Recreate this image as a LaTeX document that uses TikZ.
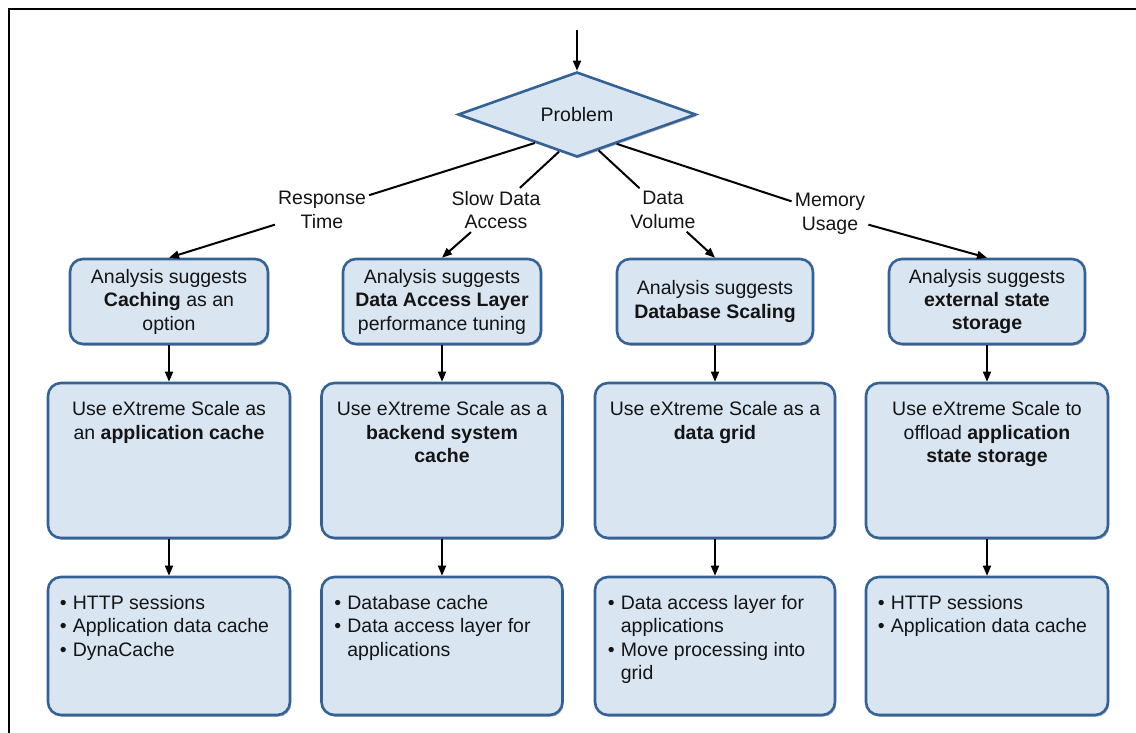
\documentclass[tikz,border=0pt]{standalone}
\usepackage{fontspec}
\setmainfont{Liberation Sans}
\usetikzlibrary{shapes.geometric,arrows.meta,calc,shadows}
\definecolor{boxfill}{RGB}{218,229,242}
\definecolor{boxline}{RGB}{52,97,150}
\definecolor{txt}{RGB}{20,20,20}
\newcommand{\bul}{\makebox[13pt][l]{\textbullet}}
\newcommand{\ind}{\hspace*{13pt}}
\begin{document}
\begin{tikzpicture}[x=1pt,y=-1pt,
  every node/.style={font=\fontsize{19.5}{23.5}\selectfont, text=txt},
  shad/.style={drop shadow={shadow xshift=1.2pt, shadow yshift=-1.8pt, fill=black!55, opacity=0.5}},
  box/.style={draw=boxline, line width=2.6pt, fill=boxfill, rounded corners=13pt, inner sep=2pt, align=center, shad},
  lbl/.style={inner sep=3pt, align=center},
  arr/.style={-{Triangle[length=10pt,width=8pt]}, line width=1.7pt, black},
  conn/.style={line width=2pt, black},
  wtext/.style={inner sep=0pt, align=center, anchor=north},
  btext/.style={inner sep=0pt, align=left, anchor=north west}]
\useasboundingbox (0,0) rectangle (1136,733);
% frame
\draw[line width=2pt] (8.5,733) -- (8.5,9.5) -- (1136,9.5);

% decision
\node[diamond, draw=boxline, line width=2.6pt, fill=boxfill, minimum width=238pt, minimum height=85pt, inner sep=0pt, aspect=2.8, shad] (prob) at (577,114.5) {Problem};
\coordinate (start) at (577,30);
\draw[arr] (start) -- (prob.north);

% branch labels
\node[lbl] (rt) at (322,210) {Response\\Time};
\node[lbl] (sd) at (496,210) {Slow Data\\Access};
\node[lbl] (dv) at (663,210) {Data\\Volume};
\node[lbl] (mu) at (830,214) {Memory\\Usage};

% row 1
\node[box, minimum width=198pt, minimum height=85pt] (r1a) at (169,301.5) {Analysis suggests\\\textbf{Caching} as an\\option};
\node[box, minimum width=198pt, minimum height=85pt] (r1b) at (442,301.5) {Analysis suggests\\\textbf{Data Access Layer}\\performance tuning};
\node[box, minimum width=196pt, minimum height=85pt] (r1c) at (715,301.5) {Analysis suggests\\\textbf{Database Scaling}};
\node[box, minimum width=196pt, minimum height=85pt] (r1d) at (987,301.5) {Analysis suggests\\\textbf{external state}\\\textbf{storage}};

% row 2
\node[box, minimum width=242pt, minimum height=155pt] (r2a) at (169,460.5) {};
\node[box, minimum width=241pt, minimum height=155pt] (r2b) at (442,460.5) {};
\node[box, minimum width=240pt, minimum height=155pt] (r2c) at (715,460.5) {};
\node[box, minimum width=242pt, minimum height=155pt] (r2d) at (987,460.5) {};
\node[wtext] (t2a) at ([yshift=-19.5pt]r2a.north) {Use eXtreme Scale as\\an \textbf{application cache}};
\node[wtext] (t2b) at ([yshift=-19.5pt]r2b.north) {Use eXtreme Scale as a\\\textbf{backend system}\\\textbf{cache}};
\node[wtext] (t2c) at ([yshift=-19.5pt]r2c.north) {Use eXtreme Scale as a\\\textbf{data grid}};
\node[wtext] (t2d) at ([yshift=-19.5pt]r2d.north) {Use eXtreme Scale to\\offload \textbf{application}\\\textbf{state storage}};

% row 3
\node[box, minimum width=242pt, minimum height=138pt] (r3a) at (169,646) {};
\node[box, minimum width=241pt, minimum height=138pt] (r3b) at (442,646) {};
\node[box, minimum width=240pt, minimum height=138pt] (r3c) at (715,646) {};
\node[box, minimum width=242pt, minimum height=138pt] (r3d) at (987,646) {};
\node[btext] (t3a) at ([xshift=13pt,yshift=-19pt]r3a.north west) {\bul HTTP sessions\\\bul Application data cache\\\bul DynaCache};
\node[btext] (t3b) at ([xshift=14pt,yshift=-19pt]r3b.north west) {\bul Database cache\\\bul Data access layer for\\\ind applications};
\node[btext] (t3c) at ([xshift=14pt,yshift=-19pt]r3c.north west) {\bul Data access layer for\\\ind applications\\\bul Move processing into\\\ind grid};
\node[btext] (t3d) at ([xshift=13pt,yshift=-19pt]r3d.north west) {\bul HTTP sessions\\\bul Application data cache};

% connectors from decision
\draw[conn] ($(prob.west)!0.65!(prob.south)$) -- (rt);
\draw[conn] ($(prob.west)!0.85!(prob.south)$) -- (sd);
\draw[conn] ($(prob.south)!0.18!(prob.east)$) -- (dv);
\draw[conn] ($(prob.south)!0.33!(prob.east)$) -- (mu);
\draw[arr, line width=2pt] (rt) -- (r1a.north);
\draw[arr, line width=2pt] (sd) -- (r1b.north);
\draw[arr, line width=2pt] (dv) -- (r1c.north);
\draw[arr, line width=2pt] (mu) -- (r1d.north);

% vertical arrows
\foreach \c in {a,b,c,d}{
  \draw[arr] (r1\c.south) -- (r2\c.north);
  \draw[arr] (r2\c.south) -- (r3\c.north);
}
\end{tikzpicture}
\end{document}
